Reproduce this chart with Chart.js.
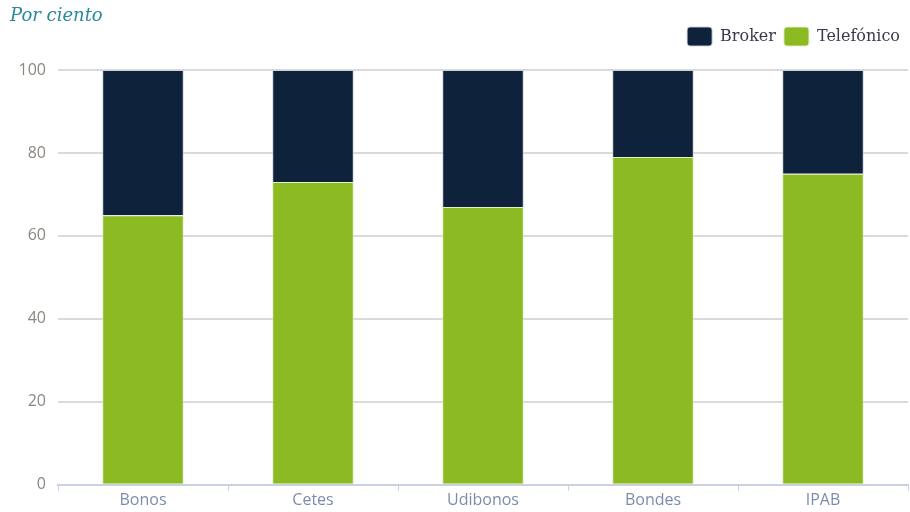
<!DOCTYPE html>
<html>
<head>
<meta charset="utf-8">
<script src="https://cdn.jsdelivr.net/npm/chart.js@4/dist/chart.umd.min.js"></script>
<style>
  body { margin: 0; background: #fff; }
  #wrap { width: 910px; height: 512px; }
</style>
</head>
<body>
<div id="wrap"><canvas id="chart"></canvas></div>
<script>
// Categories and shares (per cent)
const categories = ['Bonos', 'Cetes', 'Udibonos', 'Bondes', 'IPAB'];
const telefonico = [65, 73, 67, 79, 75];
const broker = [35, 27, 33, 21, 25];
const yTicks = [0, 20, 40, 60, 80, 100];

// extra room between legend and plot
const legendMargin = {
    id: 'legendMargin',
    beforeInit(chart) {
        const fit = chart.legend.fit;
        chart.legend.fit = function () {
            fit.bind(chart.legend)();
            this.height += 14;
        };
    }
};

const ctx = document.getElementById('chart').getContext('2d');
new Chart(ctx, {
    type: 'bar',
    data: {
        labels: categories,
        datasets: [{
            label: 'Telefónico',
            data: telefonico,
            backgroundColor: '#8bba23',
            borderColor: 'rgba(225,240,200,0.9)',
            borderWidth: 1,
            stack: 's'
        }, {
            label: 'Broker',
            data: broker,
            backgroundColor: '#0e233b',
            borderColor: 'rgba(200,208,220,0.9)',
            borderWidth: 1,
            stack: 's'
        }]
    },
    options: {
        responsive: true,
        maintainAspectRatio: false,
        animation: false,
        layout: { padding: { left: 10, right: 2, top: 0, bottom: 2 } },
        datasets: {
            bar: { barPercentage: 0.96, categoryPercentage: 0.5 }
        },
        plugins: {
            title: {
                display: true,
                text: 'Por ciento',
                align: 'start',
                color: '#2a8a9c',
                font: { family: 'DejaVu Serif', style: 'italic', weight: 'normal', size: 18, lineHeight: 1.0 },
                padding: { top: 7, bottom: -6 }
            },
            legend: {
                position: 'top',
                align: 'end',
                reverse: true,
                labels: {
                    color: '#3a3a4e',
                    font: { family: 'DejaVu Serif', size: 16 },
                    boxWidth: 25,
                    boxHeight: 19,
                    useBorderRadius: true,
                    borderRadius: 3,
                    padding: 8
                }
            },
            tooltip: { enabled: false }
        },
        scales: {
            x: {
                stacked: true,
                offset: true,
                grid: {
                    display: true,
                    offset: true,
                    drawOnChartArea: false,
                    drawTicks: true,
                    tickLength: 6,
                    color: '#c8d2e0'
                },
                border: { display: true, color: '#c8d2e0', width: 2 },
                ticks: {
                    color: '#7d8cab',
                    font: { family: 'Open Sans', size: 16 },
                    padding: 0
                }
            },
            y: {
                stacked: true,
                min: 0,
                max: 100,
                afterBuildTicks: (axis) => { axis.ticks = yTicks.map(v => ({ value: v })); },
                afterFit: (axis) => { axis.width = 48; },
                grid: {
                    color: '#dadada',
                    lineWidth: 2,
                    drawTicks: false
                },
                border: { display: false },
                ticks: {
                    color: '#8c8880',
                    font: { family: 'Open Sans', size: 16 },
                    padding: 12
                }
            }
        }
    },
    plugins: [legendMargin]
});
</script>
</body>
</html>
